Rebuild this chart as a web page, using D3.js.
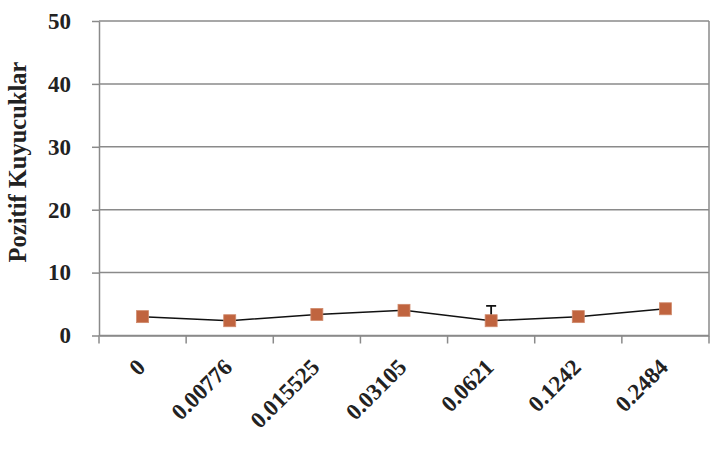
<!DOCTYPE html>
<html>
<head>
<meta charset="utf-8">
<script src="https://cdn.jsdelivr.net/npm/d3@7"></script>
<style>
  body { margin: 0; background: #fff; }
  text { font-family: "Liberation Serif", "Times New Roman", serif; font-weight: bold; }
</style>
</head>
<body>
<svg width="713" height="462"></svg>
<script>
// chart values
var categories = ['0', '0.00776', '0.015525', '0.03105', '0.0621', '0.1242', '0.2484'];
var values = [3.0, 2.35, 3.35, 4.0, 2.35, 3.0, 4.25];
var errors = [0, 0, 0, 0, 2.35, 0, 0];
var yTicks = [0, 10, 20, 30, 40, 50];

var plotLeft = 99,
	plotRight = 709,
	plotTop = 21,
	plotBottom = 335.5;

var svg = d3.select('svg');

var xScale = d3.scaleBand()
	.domain(categories)
	.range([plotLeft, plotRight]);

var yScale = d3.scaleLinear()
	.domain([0, 50])
	.range([plotBottom, plotTop]);

// gridlines
svg.append('g')
	.selectAll('line')
	.data(yTicks)
	.enter()
	.append('line')
		.attr('x1', plotLeft)
		.attr('x2', plotRight)
		.attr('y1', d => yScale(d))
		.attr('y2', d => yScale(d))
		.attr('stroke', '#8a8a8a')
		.attr('stroke-width', 1.5);

// right border
svg.append('line')
	.attr('x1', plotRight).attr('x2', plotRight)
	.attr('y1', plotTop).attr('y2', plotBottom)
	.attr('stroke', '#8a8a8a')
	.attr('stroke-width', 1.5);

var yAxis = d3.axisLeft(yScale)
	.tickValues(yTicks)
	.tickSize(7)
	.tickPadding(21)
	.tickSizeOuter(0);

var gy = svg.append('g')
	.attr('transform', 'translate(' + plotLeft + ',0)')
	.call(yAxis);
gy.select('.domain').attr('stroke', '#8a8a8a').attr('stroke-width', 1.5);
gy.selectAll('line').attr('stroke', '#8a8a8a').attr('stroke-width', 1.5);
gy.selectAll('text')
	.attr('font-size', 23)
	.attr('font-family', '"Liberation Serif", serif')
	.attr('font-weight', 'bold')
	.attr('fill', '#222');

// x axis, ticks drawn on band boundaries below
var xAxis = d3.axisBottom(xScale).tickSize(0).tickSizeOuter(0);
var gx = svg.append('g')
	.attr('transform', 'translate(0,' + plotBottom + ')')
	.call(xAxis);
gx.select('.domain').attr('stroke', '#8a8a8a').attr('stroke-width', 1.5);
gx.selectAll('text')
	.attr('font-size', 23)
	.attr('font-family', '"Liberation Serif", serif')
	.attr('font-weight', 'bold')
	.attr('fill', '#222')
	.attr('text-anchor', 'end')
	.attr('dy', 0)
	.attr('y', 0)
	.attr('transform', 'translate(4,33) rotate(-45)');

var boundaries = categories.map(c => xScale(c)).concat([plotRight]);
svg.append('g')
	.selectAll('line')
	.data(boundaries)
	.enter()
	.append('line')
		.attr('x1', d => d).attr('x2', d => d)
		.attr('y1', plotBottom).attr('y2', plotBottom + 8)
		.attr('stroke', '#8a8a8a')
		.attr('stroke-width', 1.5);

var cx = d => xScale(d) + xScale.bandwidth() / 2;

// error bars
var errData = categories.map((c, i) => ({c: c, v: values[i], e: errors[i]})).filter(d => d.e > 0);
svg.append('g')
	.selectAll('path')
	.data(errData)
	.enter()
	.append('path')
		.attr('d', d => 'M' + cx(d.c) + ',' + yScale(d.v) + 'V' + yScale(d.v + d.e) +
			'M' + (cx(d.c) - 5) + ',' + yScale(d.v + d.e) + 'H' + (cx(d.c) + 5))
		.attr('stroke', '#111')
		.attr('stroke-width', 1.8)
		.attr('fill', 'none');

// line
var line = d3.line()
	.x((d, i) => cx(categories[i]))
	.y(d => yScale(d));

svg.append('path')
	.datum(values)
	.attr('d', line)
	.attr('fill', 'none')
	.attr('stroke', '#111')
	.attr('stroke-width', 1.5);

// markers
svg.append('g')
	.selectAll('rect')
	.data(values)
	.enter()
	.append('rect')
		.attr('x', (d, i) => cx(categories[i]) - 6)
		.attr('y', d => yScale(d) - 6)
		.attr('width', 12)
		.attr('height', 12)
		.attr('fill', '#c0643f')
		.attr('stroke', '#d08a6c')
		.attr('stroke-width', 0.8);

// axis title
svg.append('text')
	.attr('transform', 'rotate(-90)')
	.attr('x', -162)
	.attr('y', 26)
	.style('text-anchor', 'middle')
	.attr('font-size', 24.5)
	.attr('fill', '#222')
	.text('Pozitif Kuyucuklar');
</script>
</body>
</html>
